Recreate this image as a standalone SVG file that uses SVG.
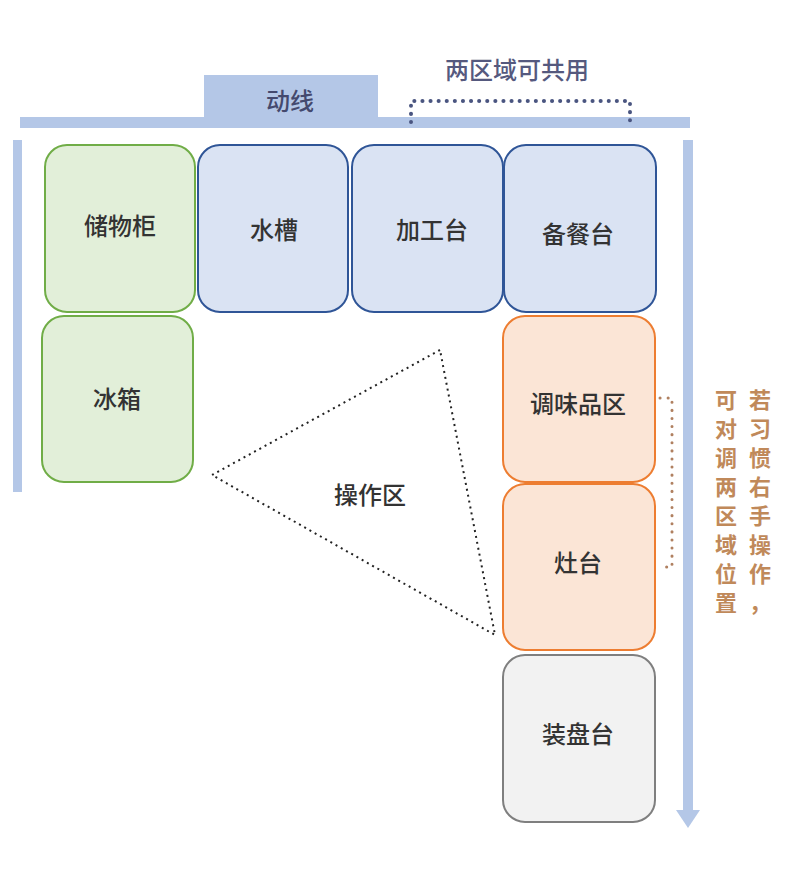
<svg xmlns="http://www.w3.org/2000/svg" width="800" height="881" viewBox="0 0 800 881">
<style>
text{font-family:"Noto Sans CJK SC","Noto Sans",sans-serif;font-size:24px;font-weight:500;fill:#333;text-anchor:middle;dominant-baseline:central}
.g{fill:#e2efd9;stroke:#70ad47;stroke-width:2}
.b{fill:#dae3f3;stroke:#2f5597;stroke-width:2}
.o{fill:#fbe5d6;stroke:#ed7d31;stroke-width:2}
.w{fill:#f2f2f2;stroke:#7f7f7f;stroke-width:2}
.bar{fill:#b4c7e7}
.dot{fill:none;stroke:#4a5580;stroke-width:4;stroke-dasharray:0.1 8;stroke-linecap:round}
.note{fill:#c0895a;font-size:22px;font-weight:bold}
</style>
<rect width="800" height="881" fill="#fff"/>
<g id="bars">
<rect class="bar" x="204" y="75" width="174" height="44"/>
<rect class="bar" x="20" y="117" width="670" height="11"/>
<rect class="bar" x="13" y="140" width="9" height="352"/>
<rect class="bar" x="683" y="140" width="10" height="672"/>
<polygon class="bar" points="676,810 700,810 688,828"/>
</g>
<g id="connectors">
<path class="dot" d="M411,122 V101 H630 V125"/>
<path class="dot" d="M660,398 H672 V567 H660" style="stroke:#b08060;stroke-width:3"/>
<polygon points="440,350 212,475 495,635" fill="none" stroke="#222" stroke-width="2" stroke-dasharray="2 4"/>
</g>
<text x="290" y="99" style="fill:#44496e">动线</text>
<text x="517" y="68" style="fill:#55597e">两区域可共用</text>
<g id="n1"><rect class="g" x="45" y="145" width="150" height="167" rx="22"/><text x="120" y="224">储物柜</text></g>
<g id="n2"><rect class="g" x="42" y="316" width="151" height="166" rx="22"/><text x="117" y="397">冰箱</text></g>
<g id="n3"><rect class="b" x="198" y="145" width="150" height="167" rx="22"/><text x="274" y="228">水槽</text></g>
<g id="n4"><rect class="b" x="352" y="145" width="151" height="167" rx="22"/><text x="432" y="228">加工台</text></g>
<g id="n5"><rect class="b" x="504" y="145" width="152" height="167" rx="22"/><text x="578" y="232">备餐台</text></g>
<g id="n6"><rect class="o" x="503" y="316" width="152" height="166" rx="22"/><text x="578" y="402">调味品区</text></g>
<g id="n7"><rect class="o" x="503" y="484" width="152" height="166" rx="22"/><text x="578" y="561">灶台</text></g>
<g id="n8"><rect class="w" x="503" y="655" width="152" height="167" rx="22"/><text x="578" y="732">装盘台</text></g>
<text x="370" y="493">操作区</text>
<g id="note">
<text class="note" x="760" y="398">若</text><text class="note" x="760" y="427">习</text><text class="note" x="760" y="456">惯</text><text class="note" x="760" y="485">右</text><text class="note" x="760" y="514">手</text><text class="note" x="760" y="543">操</text><text class="note" x="760" y="572">作</text><text class="note" x="760" y="601">，</text>
<text class="note" x="726" y="398">可</text><text class="note" x="726" y="427">对</text><text class="note" x="726" y="456">调</text><text class="note" x="726" y="485">两</text><text class="note" x="726" y="514">区</text><text class="note" x="726" y="543">域</text><text class="note" x="726" y="572">位</text><text class="note" x="726" y="601">置</text>
</g>
</svg>
